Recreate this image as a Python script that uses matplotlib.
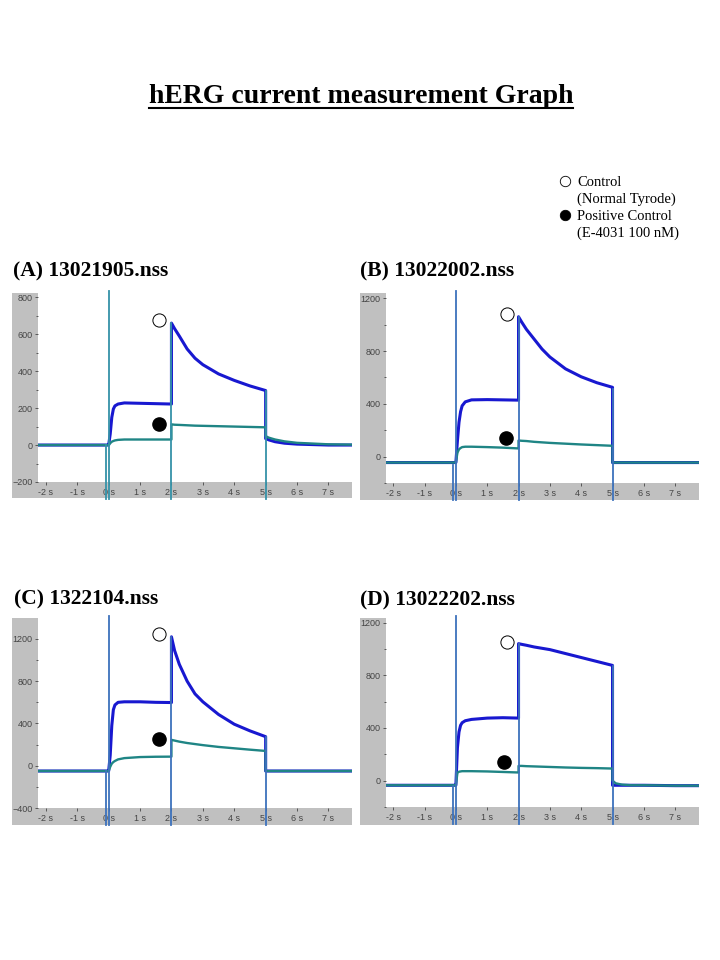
import numpy as np
import matplotlib.pyplot as plt
from matplotlib.patches import Rectangle
from matplotlib.lines import Line2D

# sample times (s); 2.0 and 5.0 appear twice for the steps
times = [-2.3, -0.02, 0.0, 0.05, 0.1, 0.15, 0.2, 0.3, 0.5, 1.0, 1.5, 2.0, 2.0,
         2.1, 2.25, 2.5, 2.75, 3.0, 3.5, 4.0, 4.5, 5.0, 5.0, 5.1, 5.3, 5.6,
         6.0, 7.0, 7.8]

# (A) 13021905.nss
a_ctrl = [0, 0, 0, 60, 150, 195, 212, 222, 228, 226, 224, 222, 660,
          630, 590, 520, 470, 435, 385, 350, 320, 295, 35, 28, 18, 10,
          5, 0, 0]
a_pos = [0, 0, 0, 10, 18, 22, 25, 28, 30, 30, 30, 30, 112,
         110, 109, 107, 105, 104, 102, 100, 98, 96, 48, 40, 30, 20,
         12, 4, 2]

# (B) 13022002.nss
b_ctrl = [-45, -45, -45, 120, 260, 340, 385, 415, 430, 432, 430, 428, 1060,
          1020, 965, 890, 815, 755, 665, 605, 560, 525, -45, -45, -45, -45,
          -45, -45, -45]
b_pos = [-45, -45, -45, 30, 55, 65, 72, 75, 75, 72, 68, 62, 122,
         120, 118, 112, 108, 104, 98, 92, 87, 82, -45, -45, -45, -45,
         -45, -45, -45]

# (C) 1322104.nss
c_ctrl = [-50, -50, -50, 100, 380, 530, 575, 600, 605, 605, 600, 598, 1220,
          1090, 960, 800, 680, 605, 485, 393, 330, 275, -50, -50, -50, -50,
          -50, -50, -50]
c_pos = [-50, -50, -50, -10, 20, 35, 45, 60, 72, 82, 85, 86, 245,
         238, 228, 215, 205, 195, 178, 165, 152, 140, -50, -50, -50, -50,
         -50, -50, -50]

# (D) 13022202.nss
d_ctrl = [-35, -35, -35, 250, 370, 420, 440, 455, 465, 475, 478, 475, 1040,
          1035, 1028, 1015, 1005, 995, 965, 935, 905, 875, -35, -35, -35, -35,
          -35, -38, -38]
d_pos = [-35, -35, -35, 60, 68, 70, 72, 72, 72, 70, 66, 62, 112,
         112, 110, 108, 106, 104, 100, 97, 95, 92, 0, -20, -30, -35,
         -35, -38, -38]

# capacitive transients: time and top value (None = beyond the top)
spike_times = [-0.1, 0.0, 2.0, 5.0]
a_spikes = [0, None, 660, 295]
b_spikes = [-45, None, 1060, 525]
c_spikes = [-50, None, 1220, 275]
d_spikes = [-35, None, 1040, 875]

# circle labels: (t, value) for control / positive control
a_marks = [(1.61, 678), (1.61, 114)]
b_marks = [(1.62, 1080), (1.59, 144)]
c_marks = [(1.61, 1251), (1.61, 252)]
d_marks = [(1.62, 1049), (1.55, 143)]

titles = ['(A) 13021905.nss', '(B) 13022002.nss', '(C) 1322104.nss', '(D) 13022202.nss']
x_ticks = [-2, -1, 0, 1, 2, 3, 4, 5, 6, 7]
x_labels = [f'{t} s' for t in x_ticks]

W, H = 720, 960
ctrl_color = '#1818d0'
pos_color = '#1f8585'
gray = '#c0c0c0'

fig = plt.figure(figsize=(7.2, 9.6), dpi=100)


def fx(px):
    return px / W


def fy(py):
    return 1 - py / H


panels = [
    # axes (l, t, r, b), gray (l, t, r, b), xlim, ylim, major, minor, data
    dict(ax=(38, 293, 352, 482), bg=(12, 293, 352, 498), xlim=(-2.25, 7.75),
         ylim=(-200, 823), major=np.arange(-200, 801, 200), minor=100,
         ctrl=a_ctrl, pos=a_pos, spikes=a_spikes, marks=a_marks,
         scol='#3592a8', title_xy=(13, 276)),
    dict(ax=(386, 293, 699, 483), bg=(360, 293, 699, 500), xlim=(-2.23, 7.76),
         ylim=(-177, 1240), major=np.arange(0, 1201, 400), minor=200,
         ctrl=b_ctrl, pos=b_pos, spikes=b_spikes, marks=b_marks,
         scol='#3d72bc', title_xy=(360, 276)),
    dict(ax=(38, 618, 352, 808), bg=(12, 618, 352, 825), xlim=(-2.25, 7.75),
         ylim=(-400, 1398), major=np.arange(-400, 1201, 400), minor=200,
         ctrl=c_ctrl, pos=c_pos, spikes=c_spikes, marks=c_marks,
         scol='#3d72bc', title_xy=(14, 604)),
    dict(ax=(386, 618, 699, 807), bg=(360, 618, 699, 825), xlim=(-2.23, 7.76),
         ylim=(-191, 1235), major=np.arange(0, 1201, 400), minor=200,
         ctrl=d_ctrl, pos=d_pos, spikes=d_spikes, marks=d_marks,
         scol='#3d72bc', title_xy=(360, 605)),
]

for p, title in zip(panels, titles):
    gl, gt, gr, gb = p['bg']
    l, t, r, b = p['ax']
    # gray frame: left strip and bottom strip only
    fig.add_artist(Rectangle((fx(gl), fy(gb)), (l - gl) / W, (gb - gt) / H,
                             transform=fig.transFigure, color=gray, lw=0, zorder=0))
    fig.add_artist(Rectangle((fx(gl), fy(gb)), (gr - gl) / W, (gb - b) / H,
                             transform=fig.transFigure, color=gray, lw=0, zorder=0))
    ax = fig.add_axes([fx(l), fy(b), (r - l) / W, (b - t) / H])
    ax.set_facecolor('white')
    ax.set_zorder(1)
    for s in ax.spines.values():
        s.set_visible(False)
    ax.set_xlim(*p['xlim'])
    ax.set_ylim(*p['ylim'])
    ylo, yhi = p['ylim']

    ax.plot(times, p['ctrl'], color=ctrl_color, lw=2.2, zorder=3)
    ax.plot(times, p['pos'], color=pos_color, lw=1.7, zorder=4)

    # vertical transient lines run down through the gray strip
    for st, top in zip(spike_times, p['spikes']):
        frac = 1.01 if top is None else (top - ylo) / (yhi - ylo)
        ax.axvline(st, ymin=-0.09, ymax=frac, color=p['scol'], lw=1.3,
                   clip_on=False, zorder=5)

    (ct, cv), (pt, pv) = p['marks']
    ax.plot(ct, cv, 'o', ms=9.5, mfc='white', mec='black', mew=0.7, zorder=6)
    ax.plot(pt, pv, 'o', ms=9.5, mfc='black', mec='black', zorder=6)

    ax.set_yticks(p['major'])
    ax.set_yticks(np.arange(ylo - ylo % p['minor'], yhi, p['minor']), minor=True)
    ax.set_xticks(x_ticks)
    ax.set_xticklabels(x_labels)
    ax.tick_params(which='both', direction='out', colors='#454545',
                   labelsize=6.5, length=2.5, width=0.6, pad=1.5)
    ax.tick_params(which='minor', length=1.8)
    ax.tick_params(axis='x', which='minor', bottom=False)
    for lab in ax.get_xticklabels() + ax.get_yticklabels():
        lab.set_family('Liberation Sans')

    tx, ty = p['title_xy']
    fig.text(fx(tx), fy(ty), title, ha='left', va='baseline', fontsize=15.5,
             fontweight='bold', family='Liberation Serif')

# main title with underline
ttl = fig.text(fx(361), fy(103), 'hERG current measurement Graph', ha='center',
               va='baseline', fontsize=20, fontweight='bold',
               family='Liberation Serif')
fig.canvas.draw()
bb = ttl.get_window_extent()
fig.add_artist(Line2D([bb.x0 / W, bb.x1 / W], [fy(108), fy(108)],
                      transform=fig.transFigure, color='black', lw=1.5))

# legend
legend_rows = [('Control', 186, 'white'), ('(Normal Tyrode)', 203, None),
               ('Positive Control', 220, 'black'), ('(E-4031 100 nM)', 237, None)]
for text, base, face in legend_rows:
    fig.text(fx(577), fy(base), text, ha='left', va='baseline', fontsize=10.5,
             family='Liberation Serif')
    if face is not None:
        fig.add_artist(Line2D([fx(565)], [fy(base - 5)], marker='o', ms=7.5,
                              mfc=face, mec='black', mew=0.6, ls='none',
                              transform=fig.transFigure))

fig.savefig('out.png', dpi=100)
